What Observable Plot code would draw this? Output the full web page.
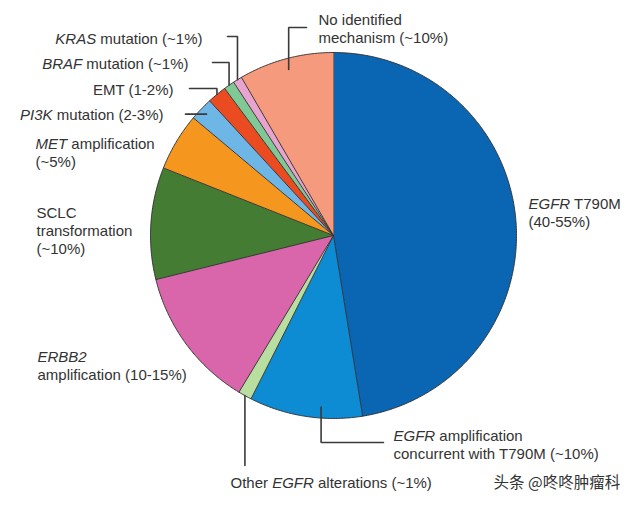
<!DOCTYPE html>
<html><head><meta charset="utf-8">
<script src="https://cdn.jsdelivr.net/npm/d3@7"></script>
<script src="https://cdn.jsdelivr.net/npm/@observablehq/plot@0.6"></script>
<style>body{margin:0;background:#fff}</style>
</head><body><div id="chart"></div>
<script>
// ---- data ----
const categories = ["EGFR T790M","EGFR amplification","Other EGFR alterations","ERBB2 amplification","SCLC transformation","MET amplification","PI3K mutation","EMT","BRAF mutation","KRAS mutation","No identified mechanism"];
const shares = [47.5, 10.0, 1.2, 12.5, 9.9, 5.1, 2.05, 1.7, 0.95, 0.8, 8.4];
const labelTexts = [
  "EGFR T790M\n(40-55%)",
  "EGFR amplification\nconcurrent with T790M (~10%)",
  "Other EGFR alterations (~1%)",
  "ERBB2\namplification (10-15%)",
  "SCLC\ntransformation\n(~10%)",
  "MET amplification\n(~5%)",
  "PI3K mutation (2-3%)",
  "EMT (1-2%)",
  "BRAF mutation (~1%)",
  "KRAS mutation (~1%)",
  "No identified\nmechanism (~10%)"
];
const italicTerms = ["EGFR","ERBB2","MET","PI3K","BRAF","KRAS"];
const watermark = "头条 @咚咚肿瘤科";

// ---- styles / layout ----
const sliceColors = ["#0a66b2","#0d8bd3","#b8dea0","#d966ab","#457c33","#f5961f","#6db6e6","#ea4b20","#80c996","#e8a4cf","#f59a7c"];
const W = 640, H = 505, CX = 333, CY = 235, R = 183;
const labelLayout = [
  {x: 528, y: 226, anchor: "start"},
  {x: 393, y: 458, anchor: "start"},
  {x: 230, y: 487, anchor: "start"},
  {x: 37,  y: 379, anchor: "start"},
  {x: 36,  y: 253, anchor: "start"},
  {x: 35,  y: 166, anchor: "start"},
  {x: 163, y: 119, anchor: "end"},
  {x: 173, y: 94,  anchor: "end"},
  {x: 188, y: 68,  anchor: "end"},
  {x: 202, y: 43,  anchor: "end"},
  {x: 318, y: 42,  anchor: "start"}
];
// leader lines: slice index, position along slice (t), radius fraction, elbow y, end x
const leaderLayout = [
  {i: 1,  t: 0.37, r: 0.94, elbowY: 442, endX: 383},
  {i: 2,  t: 0.5,  r: 1.0,  elbowY: 465, endX: null},
  {i: 6,  t: 0.5,  r: 0.96, elbowY: null, endX: 185},
  {i: 7,  t: 0.5,  r: 1.0,  elbowY: 88,  endX: 189},
  {i: 8,  t: 0.5,  r: 1.0,  elbowY: 62,  endX: 212},
  {i: 9,  t: 0.5,  r: 1.0,  elbowY: 36,  endX: 227},
  {i: 10, t: 0.5,  r: 0.94, elbowY: 27,  endX: 306}
];
const watermarkPos = {x: 493, y: 487};

// ---- build geometry from values ----
const arcs = d3.pie().sort(null).value(d => d)(shares);
const slicePts = [];
arcs.forEach((a, i) => {
  const cat = categories[i];
  slicePts.push({cat, x: CX, y: CY});
  const n = Math.max(2, Math.ceil((a.endAngle - a.startAngle) / (Math.PI / 360)));
  for (let k = 0; k <= n; k++) {
    const ang = a.startAngle + (a.endAngle - a.startAngle) * k / n;
    slicePts.push({cat, x: CX + R * Math.sin(ang), y: CY - R * Math.cos(ang)});
  }
});
const leaderPts = [];
leaderLayout.forEach(l => {
  const a = arcs[l.i];
  const ang = a.startAngle + (a.endAngle - a.startAngle) * l.t;
  const sx = CX + R * l.r * Math.sin(ang), sy = CY - R * l.r * Math.cos(ang);
  const ey = l.elbowY == null ? sy : l.elbowY;
  const ex = l.endX == null ? sx : l.endX;
  const cat = categories[l.i];
  leaderPts.push({cat, x: sx, y: sy}, {cat, x: sx, y: ey}, {cat, x: ex, y: ey});
});
const labels = labelTexts.map((t, i) => ({text: t, ...labelLayout[i]}));

const font = "'Liberation Sans', Arial, Helvetica, sans-serif";
const svg = Plot.plot({
  width: W, height: H, margin: 0,
  style: {fontFamily: font, background: "#fff", color: "#333"},
  x: {domain: [0, W], range: [0, W], axis: null},
  y: {domain: [0, H], range: [0, H], axis: null},
  color: {domain: categories, range: sliceColors},
  marks: [
    Plot.line(slicePts, {x: "x", y: "y", z: "cat", fill: "cat", stroke: "#2b2b2b", strokeWidth: 0.9, strokeLinejoin: "round"}),
    Plot.line(leaderPts, {x: "x", y: "y", z: "cat", stroke: "#3a3a3a", strokeWidth: 1.6, strokeLinejoin: "miter"}),
    Plot.text(labels.filter(d => d.anchor === "start"), {x: "x", y: "y", text: "text", textAnchor: "start", lineAnchor: "bottom", lineHeight: 1.2, fontSize: 15, fill: "#333"}),
    Plot.text(labels.filter(d => d.anchor === "end"), {x: "x", y: "y", text: "text", textAnchor: "end", lineAnchor: "bottom", lineHeight: 1.2, fontSize: 15, fill: "#333"}),
    Plot.text([watermark], {x: () => watermarkPos.x, y: () => watermarkPos.y, text: d => d, textAnchor: "start", lineAnchor: "bottom", fontSize: 15.5, fill: "#333", fontFamily: "'Noto Sans CJK SC', sans-serif"})
  ]
});

// italicize gene names
const re = new RegExp("\\b(" + italicTerms.join("|") + ")\\b", "g");
function italicize(el) {
  const s = el.textContent;
  re.lastIndex = 0;
  if (!re.test(s)) return;
  re.lastIndex = 0;
  el.textContent = "";
  let last = 0, m;
  while ((m = re.exec(s))) {
    if (m.index > last) el.appendChild(document.createTextNode(s.slice(last, m.index)));
    const t = document.createElementNS("http://www.w3.org/2000/svg", "tspan");
    t.setAttribute("font-style", "italic");
    t.textContent = m[0];
    el.appendChild(t);
    last = m.index + m[0].length;
  }
  if (last < s.length) el.appendChild(document.createTextNode(s.slice(last)));
}
svg.querySelectorAll("text").forEach(text => {
  const spans = text.querySelectorAll(":scope > tspan");
  if (spans.length) spans.forEach(italicize); else italicize(text);
});
document.getElementById("chart").appendChild(svg);
</script>
</body></html>
